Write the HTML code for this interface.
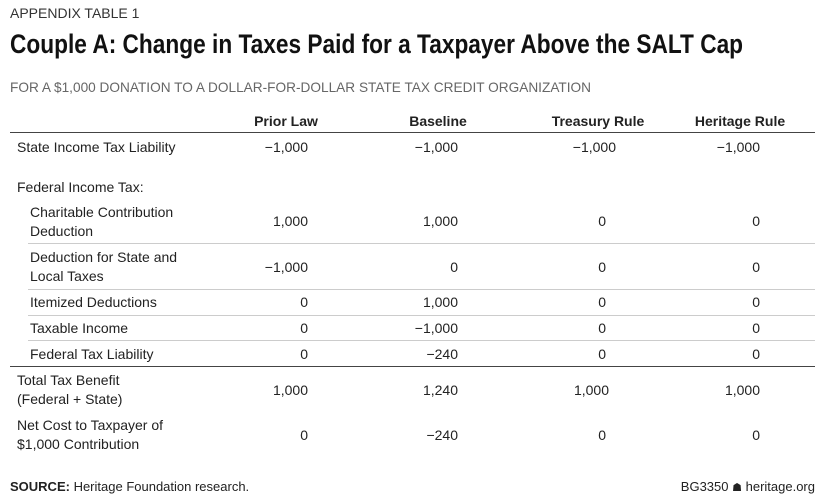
<!DOCTYPE html>
<html><head><style>
body{margin:0;width:825px;height:497px;background:#fff;position:relative;font-family:"Liberation Sans",sans-serif;color:#222;overflow:hidden}
.t{position:absolute;white-space:nowrap;font-size:14px;line-height:18px}
.r{text-align:right;width:80px}
.h{font-weight:bold;text-align:center;width:140px}
.ln{position:absolute;height:1px;background:#ccc}
</style></head><body>
<div class="t" style="left:10px;top:4px;font-size:14px;color:#333">APPENDIX TABLE 1</div>
<div class="t" style="left:10px;top:29px;font-size:27px;line-height:30px;font-weight:bold;color:#111;transform:scaleX(0.84);transform-origin:0 0">Couple A: Change in Taxes Paid for a Taxpayer Above the SALT Cap</div>
<div class="t" style="left:10px;top:78px;font-size:14px;color:#666;transform:scaleX(0.975);transform-origin:0 0">FOR A $1,000 DONATION TO A DOLLAR-FOR-DOLLAR STATE TAX CREDIT ORGANIZATION</div>

<div class="t h" style="left:216px;top:112px">Prior Law</div>
<div class="t h" style="left:368px;top:112px">Baseline</div>
<div class="t h" style="left:528px;top:112px">Treasury Rule</div>
<div class="t h" style="left:670px;top:112px">Heritage Rule</div>
<div class="ln" style="left:10px;width:805px;top:132px;background:#444"></div>

<div class="t" style="left:17px;top:138px">State Income Tax Liability</div>
<div class="t r" style="left:228px;top:138px">−1,000</div><div class="t r" style="left:378px;top:138px">−1,000</div><div class="t r" style="left:536px;top:138px">−1,000</div><div class="t r" style="left:680px;top:138px">−1,000</div>

<div class="t" style="left:17px;top:178px">Federal Income Tax:</div>

<div class="t" style="left:30px;top:203px;line-height:19px">Charitable Contribution<br>Deduction</div>
<div class="t r" style="left:228px;top:212px">1,000</div><div class="t r" style="left:378px;top:212px">1,000</div><div class="t r" style="left:526px;top:212px">0</div><div class="t r" style="left:680px;top:212px">0</div>
<div class="ln" style="left:28px;width:787px;top:243px"></div>

<div class="t" style="left:30px;top:248px;line-height:19px">Deduction for State and<br>Local Taxes</div>
<div class="t r" style="left:228px;top:258px">−1,000</div><div class="t r" style="left:378px;top:258px">0</div><div class="t r" style="left:526px;top:258px">0</div><div class="t r" style="left:680px;top:258px">0</div>
<div class="ln" style="left:28px;width:787px;top:289px"></div>

<div class="t" style="left:30px;top:293px">Itemized Deductions</div>
<div class="t r" style="left:228px;top:293px">0</div><div class="t r" style="left:378px;top:293px">1,000</div><div class="t r" style="left:526px;top:293px">0</div><div class="t r" style="left:680px;top:293px">0</div>
<div class="ln" style="left:28px;width:787px;top:315px"></div>

<div class="t" style="left:30px;top:319px">Taxable Income</div>
<div class="t r" style="left:228px;top:319px">0</div><div class="t r" style="left:378px;top:319px">−1,000</div><div class="t r" style="left:526px;top:319px">0</div><div class="t r" style="left:680px;top:319px">0</div>
<div class="ln" style="left:28px;width:787px;top:340px"></div>

<div class="t" style="left:30px;top:345px">Federal Tax Liability</div>
<div class="t r" style="left:228px;top:345px">0</div><div class="t r" style="left:378px;top:345px">−240</div><div class="t r" style="left:526px;top:345px">0</div><div class="t r" style="left:680px;top:345px">0</div>
<div class="ln" style="left:10px;width:805px;top:366px;background:#444"></div>

<div class="t" style="left:17px;top:371px;line-height:19px">Total Tax Benefit<br>(Federal + State)</div>
<div class="t r" style="left:228px;top:381px">1,000</div><div class="t r" style="left:378px;top:381px">1,240</div><div class="t r" style="left:529px;top:381px">1,000</div><div class="t r" style="left:680px;top:381px">1,000</div>

<div class="t" style="left:17px;top:416px;line-height:19px">Net Cost to Taxpayer of<br>$1,000 Contribution</div>
<div class="t r" style="left:228px;top:426px">0</div><div class="t r" style="left:378px;top:426px">−240</div><div class="t r" style="left:526px;top:426px">0</div><div class="t r" style="left:680px;top:426px">0</div>

<div class="t" style="left:10px;top:478px;font-size:13px"><b>SOURCE:</b> Heritage Foundation research.</div>
<div class="t" style="left:640px;top:478px;font-size:13px;width:175px;text-align:right">BG3350 <span style="font-size:11px">☗</span> heritage.org</div>
</body></html>
